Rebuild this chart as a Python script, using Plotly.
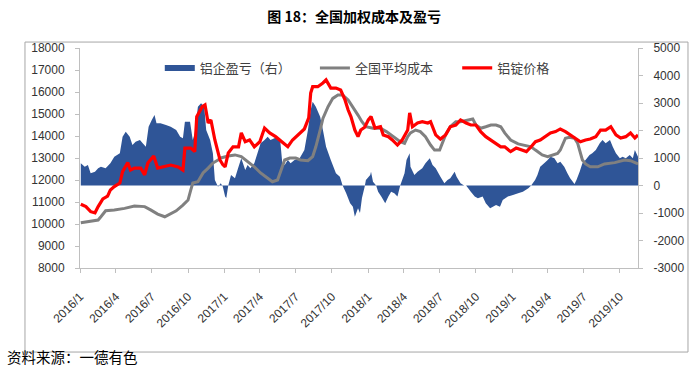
import plotly.graph_objects as go

# ---------------- data ----------------
price_dates = [
    "2016-01-03","2016-01-16","2016-01-28","2016-02-08","2016-02-16","2016-02-28","2016-03-11","2016-03-18",
    "2016-03-28","2016-04-11","2016-04-18","2016-04-26","2016-05-01","2016-05-08","2016-05-18","2016-06-03",
    "2016-06-13","2016-06-21","2016-07-06","2016-07-16","2016-08-03","2016-08-18","2016-09-06","2016-09-18",
    "2016-09-23","2016-10-08","2016-10-18","2016-10-23","2016-11-06","2016-11-13","2016-11-21","2016-11-28",
    "2016-12-08","2016-12-21","2016-12-28",
    "2017-01-03","2017-01-11","2017-01-23","2017-02-06","2017-02-13","2017-02-23","2017-03-06","2017-03-18",
    "2017-04-01","2017-04-13","2017-04-26","2017-05-11","2017-05-28","2017-06-11","2017-06-23","2017-07-11",
    "2017-07-23","2017-08-03","2017-08-08","2017-08-13","2017-08-26","2017-09-08","2017-09-16","2017-09-28",
    "2017-10-11","2017-10-23","2017-11-03","2017-11-11","2017-11-18","2017-11-28","2017-12-06","2017-12-13",
    "2017-12-23",
    "2018-01-01","2018-01-08","2018-01-18","2018-02-01","2018-02-08","2018-02-21","2018-03-03","2018-03-16",
    "2018-03-28","2018-04-11","2018-04-16","2018-04-23","2018-05-06","2018-05-18","2018-06-01","2018-06-08",
    "2018-06-21","2018-07-03","2018-07-16","2018-07-28","2018-08-11","2018-08-23","2018-09-06","2018-09-18",
    "2018-10-01","2018-10-13","2018-10-26","2018-11-08","2018-11-21","2018-12-03","2018-12-13","2018-12-28",
    "2019-01-11","2019-01-23","2019-02-06","2019-02-18","2019-03-01","2019-03-13","2019-03-26","2019-04-08",
    "2019-04-21","2019-05-03","2019-05-16","2019-05-28","2019-06-11","2019-06-23","2019-07-06","2019-07-18",
    "2019-08-01","2019-08-13","2019-08-26","2019-09-08","2019-09-21","2019-10-03","2019-10-16","2019-10-28",
    "2019-11-08","2019-11-16",
]
price_values = [
    10900,10790,10560,10510,10790,11140,11270,11550,
    11700,11860,12380,12680,12790,12450,12540,12540,
    12230,12770,13090,12540,12600,12680,12590,12450,
    13450,13450,13290,14880,15330,15410,14590,14730,
    13820,12910,12700,
    12600,13230,13510,13510,14140,13740,13820,13510,
    13740,14360,14140,13970,13740,13510,13820,14140,
    14320,14820,15950,16240,16240,16410,16550,16180,
    16180,16090,15640,15180,14880,14270,13970,14270,
    14400,
    14730,14880,14360,14420,14050,13970,13820,13590,
    13820,14270,15050,14420,14590,14650,14590,14650,
    14050,13860,14050,14420,14500,14730,14590,14500,
    14500,14200,13970,13820,13680,13510,13510,13290,
    13450,13360,13290,13510,13740,13820,13970,14140,
    14200,14320,14200,14050,13910,13740,13820,13860,
    13970,14270,14270,14420,14050,13910,13970,14140,
    13910,14050,
]

cost_dates = [
    "2016-01-03","2016-01-28","2016-02-16","2016-02-23","2016-03-06","2016-03-28","2016-04-23","2016-05-18",
    "2016-06-13","2016-06-28","2016-07-16","2016-08-03","2016-08-16","2016-09-01","2016-09-18","2016-10-01",
    "2016-10-08","2016-10-13","2016-10-26","2016-11-08","2016-11-21","2016-12-03","2016-12-16","2016-12-23",
    "2017-01-11","2017-01-28","2017-02-13","2017-03-01","2017-03-18","2017-04-03","2017-04-21","2017-05-03",
    "2017-05-16","2017-05-23","2017-06-03","2017-06-16","2017-07-01","2017-07-13","2017-08-01","2017-08-13",
    "2017-08-21","2017-09-01","2017-09-08","2017-09-21","2017-10-03","2017-10-16","2017-10-28","2017-11-11",
    "2017-11-23","2017-12-06","2017-12-16","2017-12-26",
    "2018-01-13","2018-02-01","2018-02-16","2018-02-28","2018-03-11","2018-03-23","2018-04-03","2018-04-11",
    "2018-04-18","2018-05-01","2018-05-13","2018-05-26","2018-06-08","2018-06-18","2018-07-01","2018-07-08",
    "2018-07-16","2018-07-28","2018-08-11","2018-08-23","2018-09-11","2018-09-23","2018-10-01","2018-10-13",
    "2018-10-26","2018-11-08","2018-11-21","2018-12-03","2018-12-13","2018-12-28",
    "2019-01-16","2019-02-03","2019-02-18","2019-03-01","2019-03-18","2019-04-01","2019-04-13","2019-04-26",
    "2019-05-03","2019-05-11","2019-05-16","2019-05-26","2019-06-08","2019-06-16","2019-06-23","2019-06-28",
    "2019-07-06","2019-07-18","2019-08-06","2019-08-23","2019-09-18","2019-10-13","2019-10-28","2019-11-16",
]
cost_values = [
    10060,10110,10180,10330,10600,10640,10710,10820,
    10790,10640,10450,10330,10450,10600,10860,11090,
    11550,11860,11920,12320,12540,12770,12910,13000,
    13090,13140,13060,12830,12600,12320,12080,11920,
    12000,12380,12910,13000,13000,12910,12880,13060,
    13510,14270,14800,15330,15710,15860,15860,15640,
    15330,14950,14650,14420,
    14350,14350,14200,14050,13900,13740,13670,13970,
    14140,14270,14200,13970,13590,13360,13360,13680,
    14050,14420,14650,14650,14730,14770,14500,14350,
    14420,14500,14500,14420,14140,13820,
    13640,13550,13510,13360,13140,13060,13140,13210,
    13360,13740,13900,13940,13900,13670,13210,12910,
    12730,12600,12600,12730,12790,12910,12880,12730,
]

profit_dates = [
    "2016-01-03","2016-01-13","2016-01-21","2016-01-28","2016-02-08","2016-02-16","2016-02-23","2016-03-06",
    "2016-03-18","2016-03-28","2016-04-11","2016-04-18","2016-04-26","2016-05-06","2016-05-13","2016-05-21",
    "2016-06-01","2016-06-08","2016-06-16","2016-06-23","2016-07-01","2016-07-08","2016-07-13","2016-07-23",
    "2016-08-06","2016-08-18","2016-09-01","2016-09-11","2016-09-18","2016-09-23","2016-10-06","2016-10-13",
    "2016-10-18","2016-10-26","2016-11-03","2016-11-11","2016-11-16","2016-11-26","2016-12-03","2016-12-08",
    "2016-12-16","2016-12-23","2016-12-28",
    "2017-01-03","2017-01-06","2017-01-11","2017-01-18","2017-01-28","2017-02-06","2017-02-13","2017-02-23",
    "2017-03-01","2017-03-08","2017-03-18","2017-03-26","2017-04-03","2017-04-13","2017-04-21","2017-04-28",
    "2017-05-08","2017-05-16","2017-05-23","2017-05-28","2017-06-03","2017-06-11","2017-06-18","2017-06-28",
    "2017-07-11","2017-07-23","2017-08-01","2017-08-08","2017-08-13","2017-08-21","2017-09-01","2017-09-08",
    "2017-09-16","2017-09-28","2017-10-11","2017-10-21","2017-10-28","2017-11-06","2017-11-16","2017-11-23",
    "2017-11-28","2017-12-06","2017-12-11","2017-12-16","2017-12-23","2017-12-26",
    "2018-01-06","2018-01-08","2018-01-13","2018-01-21","2018-01-26","2018-02-03","2018-02-13","2018-02-21",
    "2018-02-28","2018-03-08","2018-03-16","2018-03-23","2018-04-03","2018-04-08","2018-04-16","2018-04-18",
    "2018-04-28","2018-05-06","2018-05-18","2018-05-26","2018-06-06","2018-06-13","2018-06-21","2018-07-03",
    "2018-07-13","2018-07-21","2018-07-28","2018-08-08","2018-08-13","2018-08-23","2018-09-01","2018-09-06",
    "2018-09-11","2018-09-18","2018-09-28","2018-10-06","2018-10-18","2018-10-26","2018-11-06","2018-11-13",
    "2018-11-21","2018-12-01","2018-12-08","2018-12-21",
    "2019-01-03","2019-01-16","2019-01-28","2019-02-11","2019-02-18","2019-02-28","2019-03-06","2019-03-13",
    "2019-03-23","2019-04-01","2019-04-08","2019-04-18","2019-04-26","2019-05-03","2019-05-13","2019-05-21",
    "2019-05-28","2019-06-08","2019-06-13","2019-06-21","2019-06-28","2019-07-06","2019-07-16","2019-07-23",
    "2019-08-01","2019-08-11","2019-08-18","2019-08-26","2019-09-06","2019-09-13","2019-09-21","2019-10-01",
    "2019-10-08","2019-10-16","2019-10-26","2019-11-03","2019-11-08","2019-11-16",
]
profit_values = [
    807,684,745,444,502,625,684,625,
    807,1047,1171,1775,1956,1775,1473,1593,
    1655,1535,1411,2138,2382,2564,2262,2262,
    2200,2138,2018,1775,1716,2320,2320,1655,
    1898,2865,2989,2865,2018,1655,1171,200,
    -44,80,-40,
    -400,-450,0,380,260,684,990,564,
    745,625,807,1171,1535,1655,1775,1655,
    1716,1775,1593,807,745,927,807,927,
    990,1290,2018,2745,3047,2865,2502,2018,
    1411,927,444,320,0,-284,-647,-770,
    -1135,-830,-1000,-450,-40,200,
    380,500,140,0,-225,-400,-647,-400,
    -225,-284,-400,0,444,927,1171,684,
    380,500,625,807,990,745,625,320,
    80,200,260,500,320,80,0,0,
    -90,-225,-400,-465,-400,-647,-830,-770,
    -710,-770,-530,-400,
    -345,-284,-225,-100,0,200,380,684,
    807,927,1047,990,807,865,684,444,
    260,55,200,500,807,927,1110,1171,
    1290,1535,1655,1535,1655,1411,1171,990,
    1047,990,1110,990,1290,1047,
]

tick_dates = ["2016-01-01","2016-04-01","2016-07-01","2016-10-01","2017-01-01","2017-04-01",
              "2017-07-01","2017-10-01","2018-01-01","2018-04-01","2018-07-01","2018-10-01",
              "2019-01-01","2019-04-01","2019-07-01","2019-10-01"]
tick_labels = ["2016/1","2016/4","2016/7","2016/10","2017/1","2017/4","2017/7","2017/10",
               "2018/1","2018/4","2018/7","2018/10","2019/1","2019/4","2019/7","2019/10"]

left_ticks = [8000, 9000, 10000, 11000, 12000, 13000, 14000, 15000, 16000, 17000, 18000]
right_ticks = [-3000, -2000, -1000, 0, 1000, 2000, 3000, 4000, 5000]
right_labels = ["-3000", "-2000", "-1000", "0", "1000", "2000", "3000", "4000", "5000"]

# ---------------- figure ----------------
BLUE = "#2F5597"
GRAY = "#808080"
RED = "#FF0000"
AXIS = "#BFBFBF"
BORDER = "#A6A6A6"
TXT = "#404040"
FONT = "Noto Sans CJK SC"

fig = go.Figure()

fig.add_trace(go.Scatter(
    x=profit_dates, y=profit_values, name="铝企盈亏（右）",
    mode="none", fill="tozeroy", fillcolor=BLUE, yaxis="y", legend="legend",
))
fig.add_trace(go.Scatter(
    x=cost_dates, y=cost_values, name="全国平均成本",
    mode="lines", line=dict(color=GRAY, width=3), yaxis="y2", legend="legend2",
))
fig.add_trace(go.Scatter(
    x=price_dates, y=price_values, name="铝锭价格",
    mode="lines", line=dict(color=RED, width=3.2), yaxis="y2", legend="legend3",
))

tickfont = dict(family="Liberation Sans, Arial", size=12, color="#333333")

leg_common = dict(orientation="h", yanchor="middle", y=0.909, xanchor="left",
                  bgcolor="rgba(0,0,0,0)", font=dict(family=FONT, size=13, color=TXT),
                  itemwidth=30)

fig.update_layout(
    width=700, height=379,
    margin=dict(l=80, r=62, t=48, b=111, autoexpand=False),
    paper_bgcolor="white", plot_bgcolor="white",
    title=dict(text="<b>图 18：全国加权成本及盈亏</b>", x=0.506, xanchor="center",
               y=1 - 17 / 379, yanchor="middle", yref="container",
               font=dict(family=FONT, size=14, color="#000000")),
    xaxis=dict(type="date", range=["2016-01-01", "2019-11-16"],
               tickmode="array", tickvals=tick_dates, ticktext=tick_labels,
               tickangle=-45, tickfont=tickfont, ticks="outside", ticklen=4,
               tickcolor=AXIS, showline=True, linecolor=AXIS, linewidth=1,
               showgrid=False, zeroline=False, ticklabelstandoff=12),
    yaxis=dict(range=[-3000, 5000], tickmode="array", tickvals=right_ticks,
               ticktext=right_labels, side="right", tickfont=tickfont,
               ticks="outside", ticklen=4, tickcolor=AXIS, showline=True,
               linecolor=AXIS, showgrid=False, zeroline=False, ticklabelstandoff=8),
    yaxis2=dict(range=[8000, 18000], tickmode="array", tickvals=left_ticks,
                ticktext=[str(v) for v in left_ticks], side="left", overlaying="y",
                tickfont=tickfont, ticks="outside", ticklen=4, tickcolor=AXIS,
                showline=True, linecolor=AXIS, showgrid=False, zeroline=False,
                ticklabelstandoff=8),
    legend=dict(leg_common, x=0.143),
    legend2=dict(leg_common, x=0.421),
    legend3=dict(leg_common, x=0.676),
    showlegend=True,
    annotations=[
        dict(text="资料来源：一德有色", xref="paper", yref="paper",
             x=-0.134, y=-0.4045, xanchor="left", yanchor="middle",
             showarrow=False, font=dict(family=FONT, size=14.5, color="#000000")),
    ],
)

# outer chart border as four paper-referenced lines
for x0, y0, x1, y1 in [(-0.0986, 1.027, 1.0896, 1.027), (-0.0986, -0.382, 1.0896, -0.382),
                       (-0.0986, -0.382, -0.0986, 1.027), (1.0896, -0.382, 1.0896, 1.027)]:
    fig.add_shape(type="line", xref="paper", yref="paper", x0=x0, y0=y0, x1=x1, y1=y1,
                  line=dict(color=BORDER, width=1), layer="above")

fig.write_html("out.html", config={"displayModeBar": False},
               post_script="document.body.style.margin='0';document.body.style.padding='0';")
